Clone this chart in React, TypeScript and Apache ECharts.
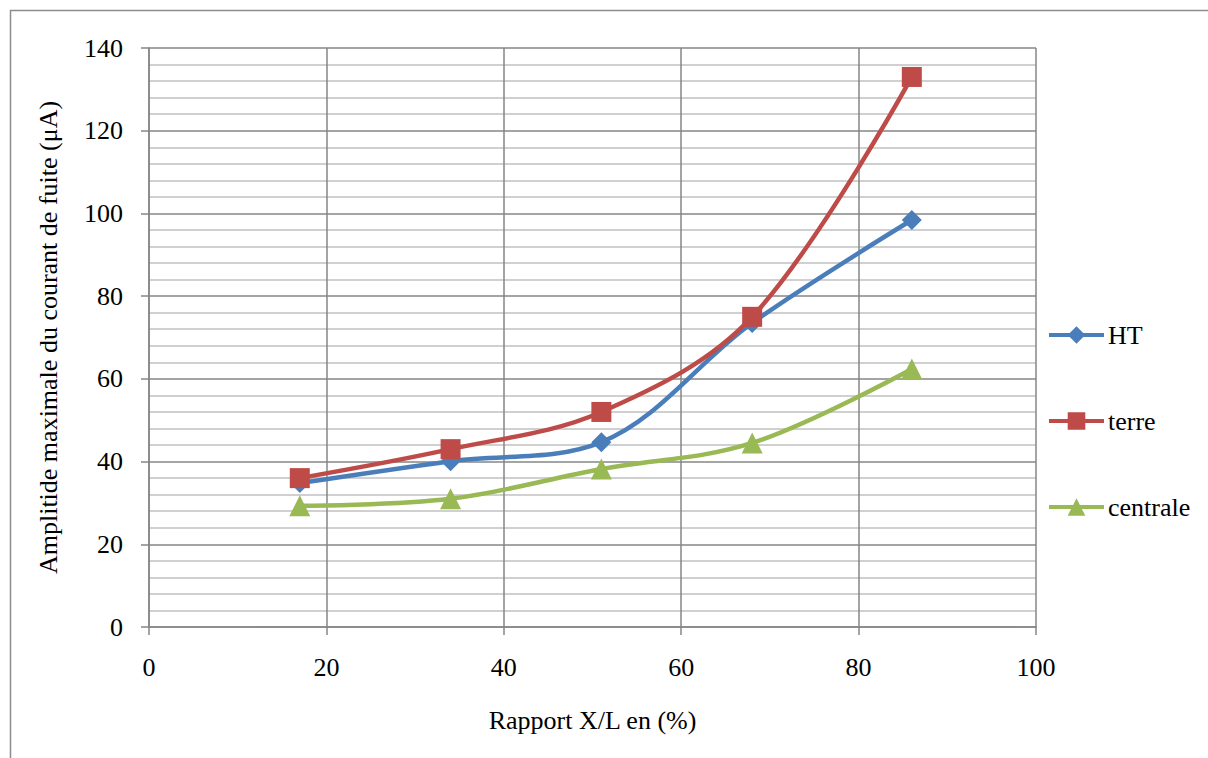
import React, { useEffect, useRef } from "react";
import * as echarts from "echarts";

const xValues = [17, 34, 51, 68, 86];
const htValues = [34.8, 40.1, 44.7, 73.5, 98.4];
const terreValues = [36, 43, 52, 75, 133];
const centraleValues = [29.3, 31, 38.2, 44.5, 62.4];
const seriesNames = ["HT", "terre", "centrale"];
const xAxisTitle = "Rapport X/L en (%)";
const yAxisTitle = "Amplitide maximale du courant de fuite (μA)";

const FONT = "Liberation Serif";
const FS = 26;

export default function App() {
  const ref = useRef<HTMLDivElement>(null);
  useEffect(() => {
    document.body.style.margin = "0";
    const chart = echarts.init(ref.current!, null, { renderer: "svg" });
    const mk = (vals: number[]) => xValues.map((x, i) => [x, vals[i]]);
    chart.setOption({
      animation: false,
      backgroundColor: "#ffffff",
      textStyle: { fontFamily: FONT },
      graphic: [
        {
          type: "rect",
          shape: { x: 10.5, y: 10.5, width: 1220, height: 780 },
          style: { fill: "none", stroke: "#8c8c8c", lineWidth: 1.5 },
          silent: true,
        },
      ],
      grid: { left: 149, top: 48, right: 172, bottom: 131, containLabel: false },
      legend: {
        orient: "vertical",
        left: 1047,
        top: 322,
        padding: 0,
        itemWidth: 55,
        itemHeight: 22,
        itemGap: 60,
        data: seriesNames,
        lineStyle: { width: 4 },
        textStyle: { fontFamily: FONT, fontSize: FS, color: "#000", padding: [0, 0, 0, -1] },
      },
      xAxis: {
        type: "value",
        min: 0,
        max: 100,
        interval: 20,
        name: xAxisTitle,
        nameLocation: "middle",
        nameGap: 80,
        nameTextStyle: { fontFamily: FONT, fontSize: FS, color: "#000" },
        axisLine: { show: true, lineStyle: { color: "#868686", width: 1.5 } },
        axisTick: { show: true, length: 8, lineStyle: { color: "#868686", width: 1.5 } },
        axisLabel: { margin: 27, fontFamily: FONT, fontSize: FS, color: "#000", verticalAlign: "top" },
        splitLine: { show: true, lineStyle: { color: "#868686", width: 1.5 } },
      },
      yAxis: {
        type: "value",
        min: 0,
        max: 140,
        interval: 20,
        name: yAxisTitle,
        nameLocation: "middle",
        nameGap: 88,
        nameTextStyle: { fontFamily: FONT, fontSize: FS, color: "#000" },
        axisLine: { show: true, lineStyle: { color: "#868686", width: 1.5 } },
        axisTick: { show: true, length: 8, lineStyle: { color: "#868686", width: 1.5 } },
        axisLabel: { margin: 26, fontFamily: FONT, fontSize: FS, color: "#000" },
        splitLine: { show: true, lineStyle: { color: "#868686", width: 1.5 } },
        minorTick: { show: false, splitNumber: 5 },
        minorSplitLine: { show: true, lineStyle: { color: "#c0c0c0", width: 1.5 } },
      },
      series: [
        {
          name: seriesNames[0],
          type: "line",
          smooth: 0.35,
          data: mk(htValues),
          symbol: "diamond",
          symbolSize: 20,
          lineStyle: { color: "#4A7EBB", width: 4.5 },
          itemStyle: { color: "#4A7EBB" },
          z: 3,
        },
        {
          name: seriesNames[1],
          type: "line",
          smooth: 0.35,
          data: mk(terreValues),
          symbol: "rect",
          symbolSize: 20,
          lineStyle: { color: "#BE4B48", width: 4.5 },
          itemStyle: { color: "#BE4B48" },
          z: 4,
        },
        {
          name: seriesNames[2],
          type: "line",
          smooth: 0.35,
          data: mk(centraleValues),
          symbol: "triangle",
          symbolSize: 21,
          lineStyle: { color: "#98B954", width: 4.5 },
          itemStyle: { color: "#98B954" },
          z: 2,
        },
      ],
    });
    return () => chart.dispose();
  }, []);
  return <div ref={ref} style={{ width: 1208, height: 758 }} />;
}
